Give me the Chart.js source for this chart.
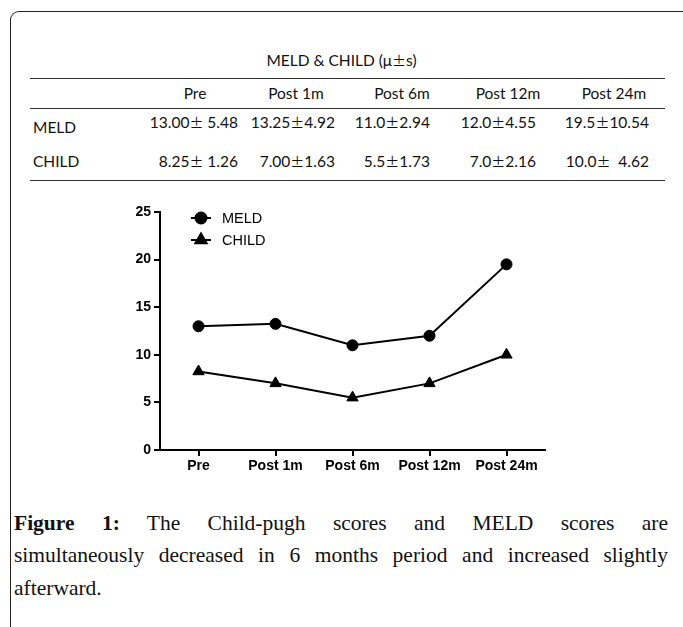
<!DOCTYPE html>
<html>
<head>
<meta charset="utf-8">
<script src="https://cdn.jsdelivr.net/npm/chart.js@4"></script>
<style>
  body { margin: 0; background: #fff; width: 683px; height: 627px; overflow: hidden; position: relative; }
  .frame { position: absolute; left: 10px; top: 11px; width: 700px; height: 700px; border-left: 1.5px solid #222; border-top: 1.5px solid #222; border-top-left-radius: 9px; }
  .tbl { position: absolute; font-family: Lato, "Open Sans", sans-serif; font-size: 15.5px; line-height: 18px; color: #111; }
  .pm { font-family: "Noto Sans CJK SC", sans-serif; font-size: 14px; }
  .hl { position: absolute; left: 30px; width: 635px; height: 0; border-top: 1.3px solid #333; }
  .cell { position: absolute; white-space: pre; }
  .cap { position: absolute; left: 14px; width: 654px; font-family: "Liberation Serif", serif; font-size: 21.5px; color: #111; text-align: justify; text-align-last: justify; white-space: nowrap; }
  #wrap { position: absolute; left: 100px; top: 195px; width: 460px; height: 285px; }
</style>
</head>
<body>
<div class="frame"></div>
<div id="table"></div>
<div id="wrap"><canvas id="score_chart" width="460" height="285"></canvas></div>
<div class="cap" style="top:511px"><b>Figure 1:</b> The Child-pugh scores and MELD scores are</div>
<div class="cap" style="top:543px">simultaneously decreased in 6 months period and increased slightly</div>
<div class="cap" style="top:576px;text-align-last:left">afterward.</div>

<script>
var periods = ['Pre', 'Post 1m', 'Post 6m', 'Post 12m', 'Post 24m'];
var meld_values = [13.0, 13.25, 11.0, 12.0, 19.5];
var child_values = [8.25, 7.0, 5.5, 7.0, 10.0];
var meld_text = ['13.00\u00B1 5.48', '13.25\u00B14.92', '11.0\u00B12.94', '12.0\u00B14.55', '19.5\u00B110.54'];
var child_text = ['8.25\u00B1 1.26', '7.00\u00B11.63', '5.5\u00B11.73', '7.0\u00B12.16', '10.0\u00B1  4.62'];
var y_ticks = [0, 5, 10, 15, 20, 25];

function pm(s){ return s.replace('\u00B1', '<span class="pm">\u00B1</span>'); }

// table above the chart
var head_centers = [195, 296, 402, 508, 614];
var value_rights = [238, 335, 430, 536, 649];
var html = '';
html += '<div class="cell tbl" style="left:0;width:683px;text-align:center;top:51px">MELD &amp; CHILD (\u03BC' + pm('\u00B1') + 's)</div>';
html += '<div class="hl" style="top:78px"></div><div class="hl" style="top:108px"></div><div class="hl" style="top:180px"></div>';
periods.forEach(function(p, i){
  html += '<div class="cell tbl" style="left:' + (head_centers[i] - 60) + 'px;width:120px;text-align:center;top:84px">' + p + '</div>';
  html += '<div class="cell tbl" style="right:' + (683 - value_rights[i]) + 'px;top:113px">' + pm(meld_text[i]) + '</div>';
  html += '<div class="cell tbl" style="right:' + (683 - value_rights[i]) + 'px;top:152px">' + pm(child_text[i]) + '</div>';
});
html += '<div class="cell tbl" style="left:33px;top:118px">MELD</div>';
html += '<div class="cell tbl" style="left:33px;top:152px">CHILD</div>';
document.getElementById('table').innerHTML = html;

var score_chart_ctx = document.getElementById('score_chart').getContext('2d');

// legend drawn inside the plot, line through the marker like the original
var inner_legend = {
  id: 'inner_legend',
  afterDraw: function(chart){
    var ctx = chart.ctx, area = chart.chartArea;
    chart.data.datasets.forEach(function(ds, i){
      var y = area.top + 6 + i * 22;
      var x0 = area.left + 31;
      ctx.save();
      ctx.strokeStyle = '#000';
      ctx.lineWidth = 2;
      ctx.beginPath(); ctx.moveTo(x0, y); ctx.lineTo(x0 + 20, y); ctx.stroke();
      Chart.helpers.drawPoint(ctx, {pointStyle: ds.pointStyle, radius: ds.pointRadius, borderWidth: 1}, x0 + 10, y);
      ctx.fillStyle = '#000';
      ctx.font = '14.5px "Liberation Sans", Arial, sans-serif';
      ctx.textBaseline = 'middle';
      ctx.fillText(ds.label, x0 + 31, y + 1);
      ctx.restore();
    });
  }
};

var tick_font = {family: '"Liberation Sans", Arial, sans-serif', size: 14, weight: 'bold'};

new Chart(score_chart_ctx, {
  type: 'line',
  data: {
    labels: periods,
    datasets: [{
      label: 'MELD',
      data: meld_values,
      borderColor: '#000',
      backgroundColor: '#000',
      borderWidth: 2,
      pointStyle: 'circle',
      pointRadius: 5.5,
      pointBorderWidth: 1,
      fill: false
    }, {
      label: 'CHILD',
      data: child_values,
      borderColor: '#000',
      backgroundColor: '#000',
      borderWidth: 2,
      pointStyle: 'triangle',
      pointRadius: 6.5,
      pointBorderWidth: 1,
      fill: false
    }]
  },
  options: {
    responsive: false,
    animation: false,
    layout: { padding: { top: 17, right: 15, left: 0, bottom: 0 } },
    plugins: { legend: { display: false }, tooltip: { enabled: false } },
    scales: {
      x: {
        offset: true,
        grid: { drawOnChartArea: false, drawTicks: true, tickLength: 6, color: '#000', lineWidth: 2 },
        border: { color: '#000', width: 2 },
        ticks: { color: '#000', font: tick_font, padding: 2 },
        afterFit: function(scale){ scale.height = 30; }
      },
      y: {
        min: 0,
        max: 25,
        afterBuildTicks: function(scale){ scale.ticks = y_ticks.map(function(v){ return {value: v}; }); },
        grid: { drawOnChartArea: false, drawTicks: true, tickLength: 6, color: '#000', lineWidth: 2 },
        border: { color: '#000', width: 2 },
        ticks: { color: '#000', font: tick_font, padding: 3 },
        afterFit: function(scale){ scale.width = 60; }
      }
    }
  },
  plugins: [inner_legend]
});
</script>
</body>
</html>
